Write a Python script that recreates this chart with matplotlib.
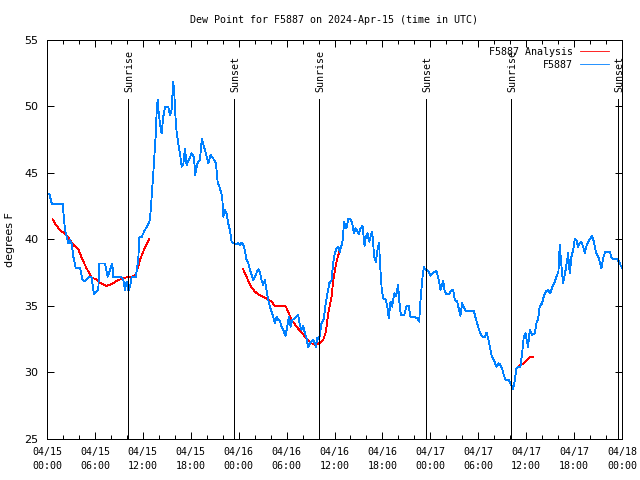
import matplotlib
matplotlib.use("Agg")
import matplotlib.pyplot as plt

# hours since 2024-04-15 00:00 UTC
obs_hours = [0.29, 0.62, 1.96, 2.25, 2.46, 2.67, 2.88, 3.09, 3.3, 3.59, 4.13, 4.46, 4.76, 5.17,
             5.59, 5.88, 6.42, 6.55, 7.26, 7.59, 7.88, 8.18, 8.3, 9.34, 9.55, 9.76, 9.97, 10.18,
             10.39, 10.6, 11.1, 11.43, 11.55, 11.85, 12.26, 12.68, 12.89, 13.02, 13.31, 13.6,
             13.72, 13.85, 13.98, 14.14, 14.35, 14.56, 14.77, 15.19, 15.4, 15.6, 15.81, 15.94,
             16.15, 16.44, 16.65, 16.86, 17.06, 17.27, 17.48, 17.77, 18.1, 18.4, 18.56, 18.81,
             19.15, 19.4, 19.65, 19.9, 20.19, 20.48, 20.81, 21.15, 21.36, 21.65, 21.94, 22.07,
             22.28, 22.48, 22.69, 22.9, 23.11, 23.53, 23.95, 24.16, 24.36, 24.66, 24.99, 25.2,
             25.49, 25.82, 26.11, 26.45, 26.66, 26.86, 27.07, 27.28, 27.49, 27.7, 27.91, 28.2,
             28.53, 28.74, 28.95, 29.16, 29.37, 29.58, 29.87, 30.08, 30.29, 30.5, 30.71, 31.04,
             31.45, 31.66, 31.87, 32.08, 32.29, 32.5, 32.71, 33.0, 33.33, 33.54, 33.67, 33.83,
             34.0, 34.17, 34.37, 34.67, 34.84, 35.09, 35.34, 35.63, 35.83, 36.04, 36.25, 36.46,
             36.67, 37.0, 37.21, 37.38, 37.5, 37.71, 38.04, 38.26, 38.42, 38.63, 38.84, 39.05,
             39.26, 39.51, 39.76, 39.93, 40.13, 40.34, 40.51, 40.72, 40.97, 41.18, 41.39, 41.59,
             41.68, 41.89, 42.09, 42.43, 42.64, 42.8, 43.01, 43.22, 43.47, 43.72, 43.97, 44.1,
             44.31, 44.73, 45.01, 45.3, 45.51, 46.06, 46.35, 46.6, 46.77, 46.98, 47.19, 47.39,
             47.73, 48.02, 48.35, 48.77, 49.06, 49.27, 49.61, 49.81, 50.02, 50.35, 50.56, 50.86,
             51.07, 51.36, 51.56, 51.77, 51.98, 52.19, 52.44, 52.94, 53.44, 53.69, 53.98, 54.19,
             54.48, 54.82, 55.03, 55.24, 55.44, 55.65, 55.94, 56.28, 56.57, 56.78, 56.99, 57.2,
             57.41, 57.82, 58.03, 58.16, 58.37, 58.58, 58.79, 59.0, 59.28, 59.49, 59.7, 59.91,
             60.12, 60.24, 60.45, 60.74, 61.07, 61.28, 61.49, 61.7, 61.99, 62.2, 62.45, 62.74,
             63.03, 63.28, 63.58, 63.87, 64.04, 64.2, 64.41, 64.62, 64.83, 65.04, 65.25, 65.46,
             65.67, 65.88, 66.09, 66.29, 66.5, 66.71, 66.92, 67.13, 67.34, 67.55, 67.88, 68.26,
             68.47, 68.72, 69.01, 69.22, 69.43, 69.64, 69.89, 70.47, 70.72, 71.39, 71.64, 71.81,
             72.0]
obs_dewpt = [43.42, 42.67, 42.67, 40.71, 40.2, 39.7, 39.96, 39.7, 38.7, 37.88, 37.88, 36.95,
             36.85, 37.15, 37.15, 35.88, 36.2, 38.2, 38.2, 37.2, 37.7, 38.2, 37.15, 37.15, 36.95,
             36.2, 36.83, 36.15, 36.45, 37.15, 37.15, 38.46, 40.16, 40.2, 40.71, 41.17, 41.47,
             42.47, 44.97, 47.73, 49.48, 50.49, 49.61, 48.73, 47.98, 49.23, 49.94, 49.94, 49.36,
             49.74, 51.87, 50.99, 48.48, 47.23, 46.48, 45.47, 45.6, 46.85, 45.6, 45.98, 46.48,
             46.23, 44.85, 45.72, 45.98, 47.6, 46.98, 46.48, 45.72, 46.35, 46.1, 45.72, 44.35,
             43.85, 43.22, 41.72, 42.22, 41.97, 41.21, 40.71, 39.84, 39.66, 39.71, 39.58, 39.78,
             39.51, 38.46, 38.21, 37.58, 36.95, 37.33, 37.76, 37.58, 36.95, 36.58, 36.95, 36.2,
             35.45, 34.95, 34.45, 33.7, 34.2, 33.95, 33.9, 33.45, 33.2, 32.74, 33.45, 34.2, 33.45,
             33.95, 34.07, 34.32, 33.57, 33.2, 33.5, 32.95, 32.57, 31.89, 32.24, 32.44, 32.24,
             31.94, 32.57, 32.49, 32.82, 33.7, 34.07, 34.95, 35.83, 36.7, 36.95, 38.21, 38.96,
             39.34, 39.46, 39.08, 39.84, 41.34, 40.96, 40.84, 41.52, 41.52, 41.09, 40.46, 40.84,
             40.64, 40.39, 40.84, 41.02, 39.51, 40.21, 40.46, 39.84, 40.21, 40.59, 38.71, 38.33,
             39.21, 39.76, 38.33, 36.45, 35.58, 35.45, 34.82, 34.07, 35.33, 34.95, 35.95, 35.75,
             36.58, 35.45, 34.32, 34.32, 35.0, 35.0, 34.2, 34.15, 34.07, 33.82, 35.45, 36.95,
             37.96, 37.71, 37.66, 37.26, 37.51, 37.63, 36.95, 36.2, 36.88, 36.08, 35.9, 35.88,
             36.15, 36.2, 35.45, 35.33, 34.82, 34.25, 35.2, 34.9, 34.62, 34.62, 34.62, 34.07,
             33.45, 33.07, 32.7, 32.64, 33.0, 32.57, 31.94, 31.32, 30.94, 30.44, 30.69, 30.56,
             30.31, 29.81, 29.44, 29.44, 29.19, 29.06, 28.73, 29.44, 30.31, 30.44, 30.39, 31.44,
             32.7, 32.95, 32.32, 31.94, 33.2, 32.82, 32.95, 33.7, 34.0, 35.0, 35.2, 35.7, 36.08,
             36.2, 35.95, 36.45, 36.83, 37.33, 37.58, 39.59, 38.08, 36.7, 37.33, 38.08, 38.96,
             37.46, 38.71, 39.21, 40.01, 39.96, 39.46, 39.76, 39.84, 39.46, 38.96, 39.51, 39.96,
             40.26, 39.84, 39.08, 38.71, 38.33, 37.83, 38.58, 39.08, 39.08, 38.58, 38.51, 38.33,
             38.08, 37.9]

# analysis segments
ana1_hours = [0.71, 1.13, 1.71, 2.13, 2.67, 3.3, 3.92, 4.46, 4.96, 5.59, 6.13, 6.76, 7.47,
              8.22, 8.93, 9.76, 10.6, 11.01, 11.3, 11.64, 12.14, 12.76]
ana1_dewpt = [41.52, 41.09, 40.66, 40.51, 40.16, 39.59, 39.26, 38.46, 37.83, 37.15, 37.0,
              36.7, 36.5, 36.7, 36.95, 37.13, 37.2, 37.26, 37.71, 38.46, 39.21, 40.01]
ana2_hours = [24.57, 24.99, 25.49, 26.03, 26.57, 27.16, 27.7, 28.12, 28.53, 29.87, 30.2,
              30.62, 31.24, 31.87, 32.5, 33.12, 33.67, 34.17, 34.58, 34.92, 35.21, 35.63,
              35.84, 36.25, 36.59]
ana2_dewpt = [37.76, 37.2, 36.5, 36.08, 35.83, 35.65, 35.5, 35.33, 35.0, 35.0, 34.57, 33.95,
              33.45, 33.0, 32.57, 32.19, 32.07, 32.24, 32.44, 33.07, 34.45, 35.7, 36.95,
              38.33, 39.08]
ana3_hours = [58.7, 59.28, 59.61, 60.12, 60.53, 60.87]
ana3_dewpt = [30.24, 30.56, 30.64, 30.94, 31.19, 31.19]

sun_hours = [10.18, 23.45, 34.08, 47.48, 58.11, 71.55]
sun_labels = ["Sunrise", "Sunset", "Sunrise", "Sunset", "Sunrise", "Sunset"]

tick_hours = list(range(0, 73, 6))
tick_labels = ["04/15\n00:00", "04/15\n06:00", "04/15\n12:00", "04/15\n18:00",
               "04/16\n00:00", "04/16\n06:00", "04/16\n12:00", "04/16\n18:00",
               "04/17\n00:00", "04/17\n06:00", "04/17\n12:00", "04/17\n18:00",
               "04/18\n00:00"]

mono = "DejaVu Sans Mono"
fs = 7.2
lw = 0.72  # one pixel at 100 dpi

fig = plt.figure(figsize=(6.4, 4.8), dpi=100)
ax = fig.add_axes([47 / 640, 41 / 480, 575 / 640, 399 / 480])

# red analysis, first one carries the legend label
ax.plot(ana1_hours, ana1_dewpt, color="#ff0000", lw=0.6, antialiased=False, label="F5887 Analysis")
ax.plot(ana2_hours, ana2_dewpt, color="#ff0000", lw=0.6, antialiased=False)
ax.plot(ana3_hours, ana3_dewpt, color="#ff0000", lw=0.6, antialiased=False)
ax.plot(obs_hours, obs_dewpt, color="#0080ff", lw=0.6, antialiased=False, label="F5887")

for t, lab in zip(sun_hours, sun_labels):
    ax.vlines(t, 25, 50.55, color="black", lw=lw, antialiased=False)
    ax.text(t + 0.15, 51.1, lab, rotation=90, ha="center", va="bottom",
            fontsize=fs, family=mono)

ax.set_xlim(0, 72)
ax.set_ylim(25, 55)
ax.set_xticks(tick_hours)
ax.set_xticklabels(tick_labels, family=mono, fontsize=fs, linespacing=1.5)
ax.set_xticks(range(0, 73, 2), minor=True)
ax.set_yticks(range(25, 56, 5))
for lab in ax.get_yticklabels():
    lab.set_fontsize(8)
ax.tick_params(axis="both", which="major", direction="in", length=5, width=lw,
               top=True, right=True, pad=6)
ax.tick_params(axis="x", which="minor", direction="in", length=3, width=lw, top=True)
for s in ax.spines.values():
    s.set_linewidth(lw)

ax.set_title("Dew Point for F5887 on 2024-Apr-15 (time in UTC)", family=mono,
             fontsize=fs, pad=12)
ax.set_ylabel("degrees F", fontsize=8)
ax.yaxis.set_label_coords(-0.056, 0.5)

ax.legend(loc="upper right", bbox_to_anchor=(0.99, 1.0), frameon=False, markerfirst=False,
          prop={"family": mono, "size": fs}, handlelength=2.9, handletextpad=0.7,
          labelspacing=0.3, borderpad=0.2)

fig.savefig("out.png", dpi=100)
